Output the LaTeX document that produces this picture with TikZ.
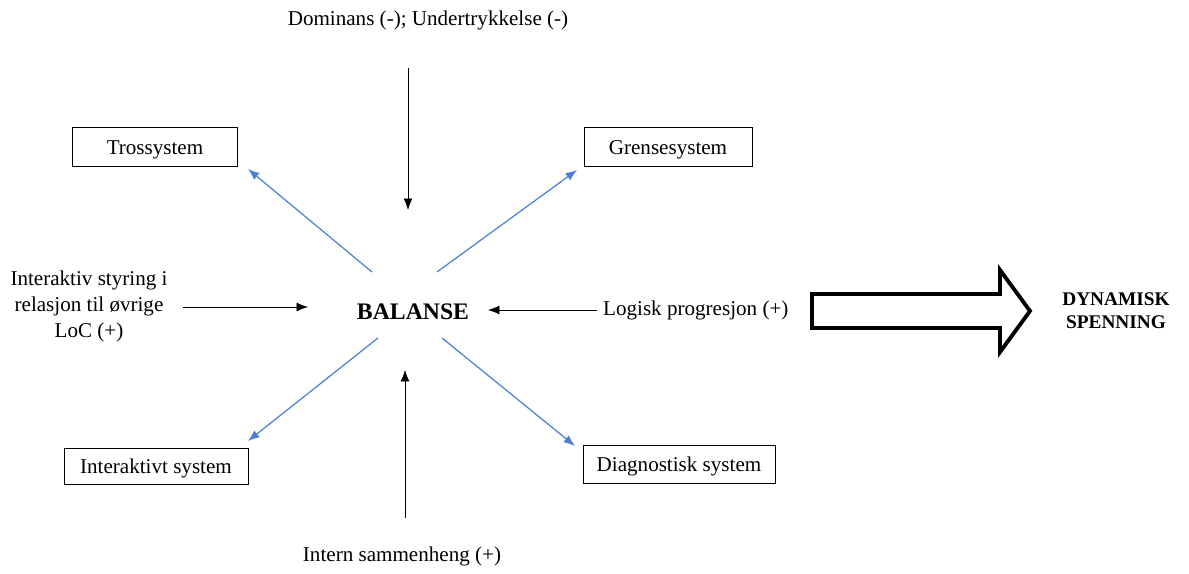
\documentclass[tikz,border=0pt]{standalone}
\usepackage{fontspec}
\setmainfont{Liberation Serif}
\usetikzlibrary{arrows.meta, positioning}
\tikzset{>={Latex[length=6.5pt, width=5pt]}}
\definecolor{lineblue}{RGB}{76,128,212}
\tikzset{sys-box/.style = {draw, rectangle, minimum height=0.78cm, inner sep=0pt, text height=2.1ex, text depth=0.3ex}}
\tikzset{factor/.style = {align=center}}
\tikzset{blue-arrow/.style = {->, draw=lineblue, line width=0.7pt}}

\begin{document}
\begin{tikzpicture}[x=0.02cm, y=-0.02cm, font=\fontsize{12}{14.8}\selectfont]
  \useasboundingbox (0,0) rectangle (1189,574);
  % centre and the four levers
  \node (bal) at (413,312) {\fontsize{13.5}{16}\selectfont\bfseries BALANSE};
  \node[sys-box, minimum width=3.3cm] (tros) at (155,147) {Trossystem};
  \node[sys-box, minimum width=3.36cm] (grense) at (668,147) {Grensesystem};
  \node[sys-box, minimum width=3.68cm, minimum height=0.72cm] (inter) at (156,466) {Interaktivt system};
  \node[sys-box, minimum width=3.84cm, minimum height=0.76cm] (diag) at (679,464) {Diagnostisk system};
  % forces
  \node[factor] (dom) at (428,20) {Dominans (-); Undertrykkelse (-)};
  \node[factor] (styr) at (89,306) {Interaktiv styring i\\relasjon til øvrige\\LoC (+)};
  \node[factor, anchor=west] (logisk) at (597,310) {Logisk progresjon (+)};
  \node[factor] (intern) at (402,556) {Intern sammenheng (+)};
  \node[factor, font=\fontsize{11}{13}\selectfont\bfseries] (dyn) at (1116,311) {DYNAMISK\\SPENNING};

  \coordinate (dom-a) at (408,68);
  \coordinate (dom-b) at (408,210);
  \coordinate (styr-a) at (183,307);
  \coordinate (styr-b) at (308,307);
  \coordinate (log-b) at (488,310);
  \coordinate (int-a) at (405,518);
  \coordinate (int-b) at (405,370);
  \coordinate (b-nw) at (372,272);
  \coordinate (b-ne) at (437,272);
  \coordinate (b-sw) at (378,338);
  \coordinate (b-se) at (442,338);
  \coordinate (t-nw) at (248,169);
  \coordinate (t-ne) at (577,170);
  \coordinate (t-sw) at (248,441);
  \coordinate (t-se) at (575,446);

  \foreach \i/\o in {dom-a/dom-b, styr-a/styr-b, logisk.west/log-b, int-a/int-b}
  {
    \draw[->] (\i) -- (\o);
  }
  \foreach \i/\o in {b-nw/t-nw, b-ne/t-ne, b-sw/t-sw, b-se/t-se}
  {
    \draw[blue-arrow] (\i) -- (\o);
  }

  % big outline arrow
  \draw[line width=2.2pt, line join=miter]
    (812,294) -- (1000,294) -- (1000,270) -- (1030,311) -- (1000,352)
    -- (1000,328) -- (812,328) -- cycle;
\end{tikzpicture}
\end{document}
